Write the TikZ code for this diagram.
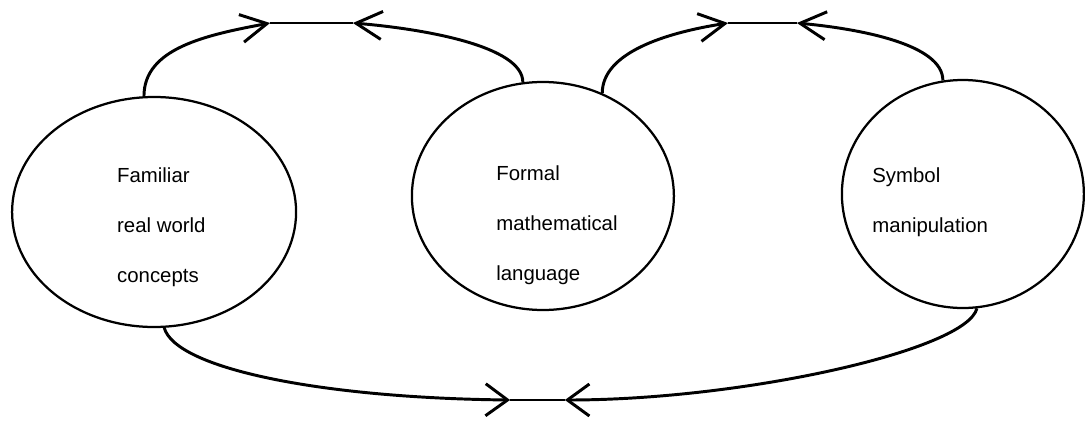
\documentclass[tikz,border=0pt]{standalone}
\usepackage{fontspec}
\setmainfont{Liberation Sans}
\usetikzlibrary{shapes.geometric,arrows.meta}
\begin{document}
\begin{tikzpicture}[
  blob/.style={draw, ellipse, line width=1.6pt, inner sep=0pt},
  words/.style={align=left, anchor=north west, inner sep=0pt, font=\fontsize{14.5}{35.6}\selectfont},
  link/.style={line width=2.1pt},
  barb/.style={-{Straight Barb[length=0.65cm,width=0.7cm]}},
  lowbarb/.style={-{Straight Barb[length=0.55cm,width=0.8cm]}}]
\useasboundingbox (-13.5625,-5.25) rectangle (13.5625,5.25);
\node[blob, minimum width=7.1cm, minimum height=5.75cm] (fam) at (-9.71,-0.05) {};
\node[blob, minimum width=6.55cm, minimum height=5.7cm] (form) at (0.01,0.35) {};
\node[blob, minimum width=6.05cm, minimum height=5.7cm] (sym) at (10.51,0.4) {};
\node[words] (famtext) at (-10.64,1.075) {Familiar\\real world\\concepts};
\node[words] (formtext) at (-1.16,1.125) {Formal\\mathematical\\language};
\node[words] (symtext) at (8.24,1.075) {Symbol\\manipulation};
\coordinate (t1) at (-6.81,4.675);
\coordinate (t2) at (-4.74,4.675);
\coordinate (t3) at (4.64,4.675);
\coordinate (t4) at (6.36,4.675);
\coordinate (t5) at (-0.81,-4.75);
\coordinate (t6) at (0.56,-4.75);
\draw[link, barb] (fam.95) .. controls +(0,1.2) and +(-1.6,-0.3) .. (t1);
\draw[link] (t1) -- (t2);
\draw[link, barb] (form.100) .. controls +(0,0.9) and +(1.8,-0.15) .. (t2);
\draw[link, barb] (form.60) .. controls +(0,1.0) and +(-1.6,-0.25) .. (t3);
\draw[link] (t3) -- (t4);
\draw[link, barb] (sym.100) .. controls +(0,0.9) and +(1.6,-0.15) .. (t4);
\draw[link, lowbarb] (fam.-85) .. controls +(0.29,-1.025) and +(-4.7,0.05) .. (t5);
\draw[link] (t5) -- (t6);
\draw[link, lowbarb] (sym.-83) .. controls +(-0.26,-1.05) and +(4.44,0) .. (t6);
\end{tikzpicture}
\end{document}
